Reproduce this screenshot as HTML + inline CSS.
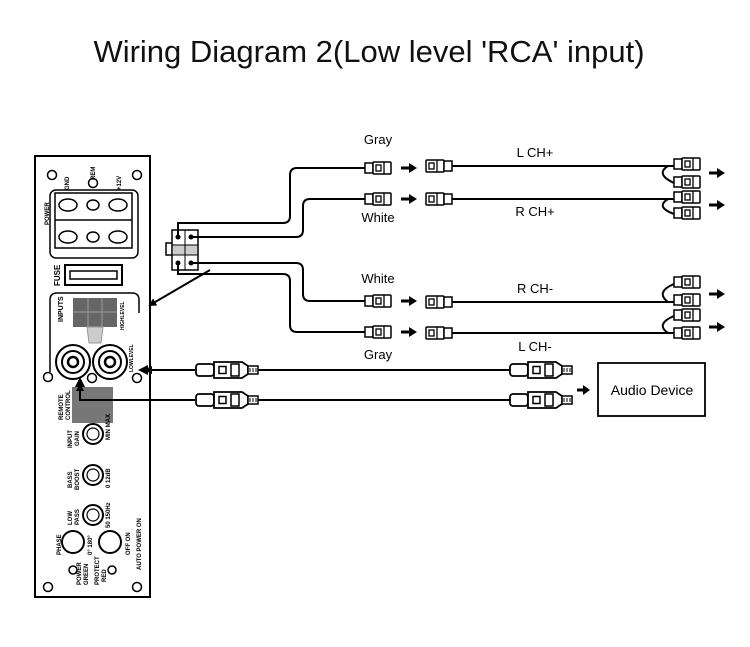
<!DOCTYPE html>
<html><head><style>
body{margin:0;background:#fff;}
svg{display:block;font-family:"Liberation Sans",Arial,sans-serif;}
</style></head><body>
<svg width="750" height="647" viewBox="0 0 750 647" xmlns="http://www.w3.org/2000/svg">
<defs>
<g id="sm">
 <rect x="0" y="-5" width="8" height="10" fill="#fff" stroke="#000" stroke-width="1.5"/>
 <rect x="8" y="-6" width="18" height="12" rx="1" fill="#fff" stroke="#000" stroke-width="1.5"/>
 <rect x="11" y="-3" width="5" height="6" fill="none" stroke="#000" stroke-width="1.3"/>
 <line x1="19" y1="-6" x2="19" y2="6" stroke="#000" stroke-width="1.3"/>
</g>
<g id="smr">
 <rect x="0" y="-6" width="18" height="12" rx="1" fill="#fff" stroke="#000" stroke-width="1.5"/>
 <rect x="3" y="-3" width="5" height="6" fill="none" stroke="#000" stroke-width="1.3"/>
 <line x1="11" y1="-6" x2="11" y2="6" stroke="#000" stroke-width="1.3"/>
 <rect x="18" y="-5" width="8" height="10" fill="#fff" stroke="#000" stroke-width="1.5"/>
</g>
<g id="rca">
 <rect x="0" y="-6" width="18" height="12" rx="3" fill="#fff" stroke="#000" stroke-width="1.8"/>
 <path d="M18,-8 H46 L52,-4 V4 L46,8 H18 Z" fill="#fff" stroke="#000" stroke-width="1.8"/>
 <rect x="23" y="-3.5" width="7" height="7" fill="none" stroke="#000" stroke-width="1.5"/>
 <rect x="35" y="-6" width="8" height="12" fill="none" stroke="#000" stroke-width="1.5"/>
 <rect x="52" y="-4" width="10" height="8" fill="#fff" stroke="#000" stroke-width="1.5"/>
 <path d="M54,-2 v4 M57,-2 v4 M60,-2 v4" stroke="#000"/>
</g>
<marker id="ah" markerWidth="8" markerHeight="8" refX="6" refY="4" orient="auto" markerUnits="userSpaceOnUse">
 <path d="M0,0 L8,4 L0,8 Z" fill="#000"/>
</marker>
<g id="arr"><path d="M0,0 H9" stroke="#000" stroke-width="3"/><path d="M8,-5 L16,0 L8,5 Z" fill="#000"/></g>
</defs>

<text x="369" y="62" font-size="31" text-anchor="middle" fill="#111">Wiring Diagram 2(Low level 'RCA' input)</text>

<!-- panel -->
<rect x="35" y="156" width="115" height="441" fill="#fff" stroke="#000" stroke-width="2"/>
<g fill="#fff" stroke="#000" stroke-width="1.5">
<circle cx="52" cy="175" r="4.5"/><circle cx="93" cy="183" r="4.5"/><circle cx="137" cy="175" r="4.5"/>
<rect x="50" y="190" width="88" height="68" rx="6"/>
<rect x="55" y="193" width="77" height="55"/>
<line x1="55" y1="220" x2="132" y2="220"/>
<ellipse cx="68" cy="205" rx="9" ry="6"/><ellipse cx="93" cy="205" rx="6" ry="5"/><ellipse cx="118" cy="205" rx="9" ry="6"/>
<ellipse cx="68" cy="237" rx="9" ry="6"/><ellipse cx="93" cy="237" rx="6" ry="5"/><ellipse cx="118" cy="237" rx="9" ry="6"/>
<rect x="65" y="265" width="57" height="20" stroke-width="2"/>
<path d="M70,271 h47 v8 h-47 z"/>
<path d="M50,372 V300 Q50,293 57,293 H132 Q139,293 139,300 V313" fill="none"/>
<circle cx="48" cy="377" r="4.5"/><circle cx="92" cy="378" r="4.5"/><circle cx="137" cy="378" r="4.5"/>
<circle cx="48" cy="587" r="4.5"/><circle cx="137" cy="587" r="4.5"/>
<circle cx="73" cy="570" r="4"/><circle cx="112" cy="570" r="4"/>
</g>
<rect x="73" y="298" width="44" height="29" fill="#666"/>
<path d="M88,298 v29 M102,298 v29 M73,312 h44" stroke="#999"/>
<path d="M87,327 h16 l-2,16 h-12 z" fill="#ccc" stroke="#999"/>
<g stroke="#000" fill="#fff">
<circle cx="73" cy="362" r="17" stroke-width="2"/><circle cx="73" cy="362" r="11" stroke-width="2"/><circle cx="73" cy="362" r="5" stroke-width="2.5"/>
<circle cx="110" cy="362" r="17" stroke-width="2"/><circle cx="110" cy="362" r="11" stroke-width="2"/><circle cx="110" cy="362" r="5" stroke-width="2.5"/>
</g>
<rect x="72" y="387" width="41" height="36" fill="#777"/>
<g fill="#fff" stroke="#000" stroke-width="2">
<circle cx="93" cy="434" r="10"/><circle cx="93" cy="475" r="10"/><circle cx="93" cy="515" r="10"/>
<circle cx="73" cy="542" r="11"/><circle cx="110" cy="542" r="11"/>
</g>
<g fill="none" stroke="#000" stroke-width="1.2">
<circle cx="93" cy="434" r="6"/><circle cx="93" cy="475" r="6"/><circle cx="93" cy="515" r="6"/>
</g>
<g font-size="6" font-weight="bold" fill="#000">
<text transform="translate(49,225) rotate(-90)">POWER</text>
<text transform="translate(69,190) rotate(-90)">GND</text>
<text transform="translate(95,180) rotate(-90)">REM</text>
<text transform="translate(121,190) rotate(-90)">+12V</text>
<text transform="translate(60,286) rotate(-90)" font-size="8">FUSE</text>
<text transform="translate(63,322) rotate(-90)" font-size="7">INPUTS</text>
<text transform="translate(124,330) rotate(-90)" font-size="5">HIGHLEVEL</text>
<text transform="translate(133,372) rotate(-90)" font-size="5">LOWLEVEL</text>
<text transform="translate(63,420) rotate(-90)">REMOTE</text>
<text transform="translate(70,420) rotate(-90)">CONTROL</text>
<text transform="translate(72,448) rotate(-90)">INPUT</text>
<text transform="translate(79,446) rotate(-90)">GAIN</text>
<text transform="translate(72,488) rotate(-90)">BASS</text>
<text transform="translate(79,490) rotate(-90)">BOOST</text>
<text transform="translate(72,525) rotate(-90)">LOW</text>
<text transform="translate(79,525) rotate(-90)">PASS</text>
<text transform="translate(110,440) rotate(-90)">MIN MAX</text>
<text transform="translate(110,488) rotate(-90)">0 12dB</text>
<text transform="translate(110,528) rotate(-90)">50 150Hz</text>
<text transform="translate(61,555) rotate(-90)">PHASE</text>
<text transform="translate(92,555) rotate(-90)">0° 180°</text>
<text transform="translate(130,555) rotate(-90)">OFF ON</text>
<text transform="translate(81,585) rotate(-90)">POWER</text>
<text transform="translate(88,585) rotate(-90)">GREEN</text>
<text transform="translate(99,585) rotate(-90)">PROTECT</text>
<text transform="translate(106,582) rotate(-90)">RED</text>
<text transform="translate(141,570) rotate(-90)">AUTO POWER ON</text>
</g>

<!-- 4-pin connector -->
<rect x="166" y="243" width="7" height="12" fill="#fff" stroke="#000" stroke-width="1.5"/>
<rect x="172" y="230" width="26" height="40" fill="#fff" stroke="#000" stroke-width="1.5"/>
<rect x="173" y="245" width="24" height="10" fill="#ccc"/>
<path d="M185,230 v40 M172,245 h26 M172,255 h26" stroke="#000"/>
<g fill="#000"><circle cx="178" cy="237" r="2.5"/><circle cx="191" cy="237" r="2.5"/><circle cx="178" cy="263" r="2.5"/><circle cx="191" cy="263" r="2.5"/></g>
<g fill="none" stroke="#000" stroke-width="2">
<path d="M178,237 V223 H283 Q290,223 290,216 V175 Q290,168 297,168 H365"/>
<path d="M191,237 H296 Q303,237 303,230 V206 Q303,199 310,199 H365"/>
<path d="M191,263 H296 Q303,263 303,270 V294 Q303,301 310,301 H365"/>
<path d="M178,263 V274 H283 Q290,274 290,281 V325 Q290,332 297,332 H365"/>
<path d="M210,270 L150,305" marker-end="url(#ah)"/>
</g>
<use href="#sm" x="365" y="168"/><use href="#sm" x="365" y="199"/><use href="#sm" x="365" y="301"/><use href="#sm" x="365" y="332"/>
<use href="#arr" x="401" y="168"/><use href="#arr" x="401" y="199"/><use href="#arr" x="401" y="301"/><use href="#arr" x="401" y="332"/>
<use href="#smr" x="426" y="166"/><use href="#smr" x="426" y="199"/><use href="#smr" x="426" y="302"/><use href="#smr" x="426" y="333"/>
<g stroke="#000" stroke-width="2" fill="none">
<path d="M452,166 H674 M452,199 H674 M452,302 H674 M452,333 H674"/>
<path d="M668,166 Q655,174 674,183 M668,199 Q655,207 674,214 M668,302 Q655,292 674,284 M668,333 Q655,324 674,316"/>
</g>
<use href="#sm" x="674" y="164"/><use href="#sm" x="674" y="182"/><use href="#sm" x="674" y="197"/><use href="#sm" x="674" y="213"/>
<use href="#sm" x="674" y="282"/><use href="#sm" x="674" y="300"/><use href="#sm" x="674" y="315"/><use href="#sm" x="674" y="333"/>
<use href="#arr" x="709" y="173"/><use href="#arr" x="709" y="205"/><use href="#arr" x="709" y="294"/><use href="#arr" x="709" y="327"/>
<g font-size="13" fill="#000">
<text x="378" y="144" text-anchor="middle">Gray</text>
<text x="378" y="222" text-anchor="middle">White</text>
<text x="378" y="283" text-anchor="middle">White</text>
<text x="378" y="359" text-anchor="middle">Gray</text>
<text x="535" y="157" text-anchor="middle">L CH+</text>
<text x="535" y="216" text-anchor="middle">R CH+</text>
<text x="535" y="293" text-anchor="middle">R CH-</text>
<text x="535" y="351" text-anchor="middle">L CH-</text>
</g>

<!-- RCA cables -->
<g stroke="#000" stroke-width="2" fill="none">
<path d="M195,370 H146" marker-end="url(#ah)"/>
<path d="M195,400 H80 V385" marker-end="url(#ah)"/>
<path d="M258,370 H510 M258,400 H510"/>
</g>
<path d="M138,370 L148,365 L148,375 Z" fill="#000"/>
<path d="M80,377 L75,387 L85,387 Z" fill="#000"/>
<use href="#rca" x="196" y="370"/><use href="#rca" x="196" y="400"/>
<use href="#rca" x="510" y="370"/><use href="#rca" x="510" y="400"/>
<g><path d="M577,390 h7" stroke="#000" stroke-width="3"/><path d="M583,385 L590,390 L583,395 Z" fill="#000"/></g>
<rect x="598" y="363" width="107" height="53" fill="#fff" stroke="#000" stroke-width="1.8"/>
<text x="652" y="395" font-size="14" text-anchor="middle" fill="#000">Audio Device</text>
</svg>
</body></html>
